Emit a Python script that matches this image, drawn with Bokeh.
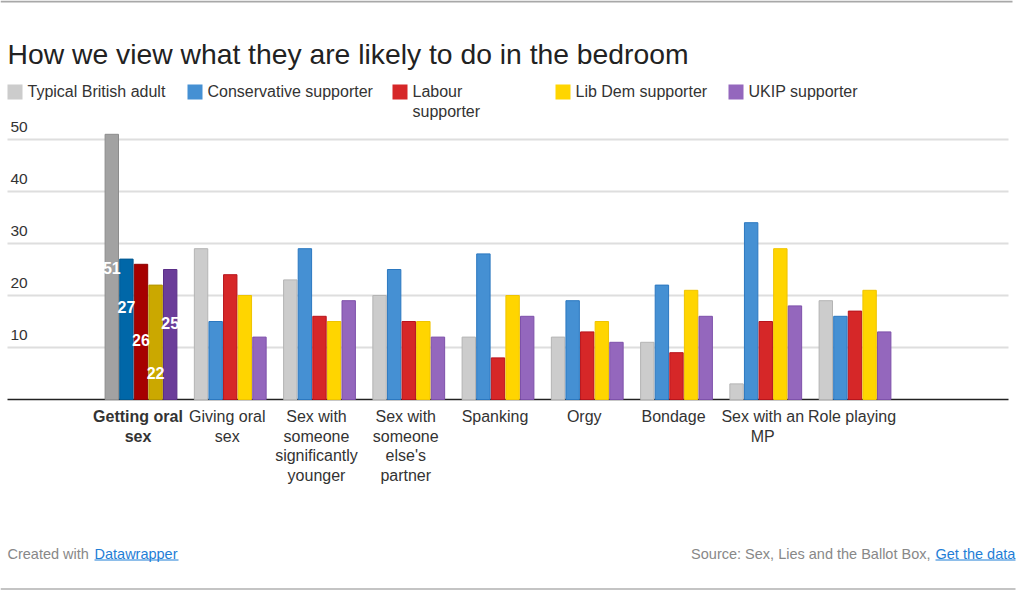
from bokeh.plotting import figure
from bokeh.models import Range1d, ColumnDataSource
from bokeh.core.properties import value
from bokeh.embed import file_html
from bokeh.resources import INLINE

# ---------------- data ----------------
title = "How we view what they are likely to do in the bedroom"
categories = ["Getting oral sex", "Giving oral sex", "Sex with someone significantly younger",
              "Sex with someone else's partner", "Spanking", "Orgy", "Bondage",
              "Sex with an MP", "Role playing"]
series_names = ["Typical British adult", "Conservative supporter", "Labour supporter",
                "Lib Dem supporter", "UKIP supporter"]
typical = [51, 29, 23, 20, 12, 12, 11, 3, 19]
conservative = [27, 15, 29, 25, 28, 19, 22, 34, 16]
labour = [26, 24, 16, 15, 8, 13, 9, 15, 17]
libdem = [22, 20, 15, 15, 20, 15, 21, 29, 21]
ukip = [25, 12, 19, 12, 16, 11, 16, 18, 13]
y_ticks = [10, 20, 30, 40, 50]
highlight_category = 0
footer_left = ["Created with", "Datawrapper"]
footer_right = ["Source: Sex, Lies and the Ballot Box,", "Get the data"]

series = [typical, conservative, labour, libdem, ukip]

# ---------------- style ----------------
FONT = value("Liberation Sans")
W, H = 1018, 590
PX_PER_X = 89.25      # px per category
X0_PX = 140.5         # px of first category centre
PX_PER_Y = 5.2        # px per unit
Y0_PX = 399           # px (from top) of the zero line
BAR_PITCH = 14.6 / PX_PER_X
BAR_W = 13.4 / PX_PER_X
LINE_H = 19.5

colors = ["#cccccc", "#4590d3", "#d62728", "#ffd500", "#9467bd"]
borders = ["#b4b4b4", "#2b78c0", "#b8141c", "#efc400", "#7e51aa"]
hi_colors = ["#a2a2a2", "#0067a8", "#a60000", "#cba800", "#6b3d99"]
hi_borders = ["#8c8c8c", "#00588f", "#8c0000", "#b39400", "#5b2f88"]
legend_wrap_width = [30, 30, 10, 30, 30]
legend_x = [7, 187, 392, 555, 728]
value_label_lift = [132, 93, 60, 27, 77]


def wrap(s, width=12):
    lines, cur = [], ""
    for w in s.split():
        if cur and len(cur) + 1 + len(w) > width:
            lines.append(cur)
            cur = w
        else:
            cur = (cur + " " + w).strip()
    lines.append(cur)
    return lines


p = figure(width=W, height=H, output_backend="svg", toolbar_location=None,
           x_axis_type=None, y_axis_type=None, min_border=0,
           x_range=Range1d(-X0_PX / PX_PER_X, (W - X0_PX) / PX_PER_X),
           y_range=Range1d(-(H - Y0_PX) / PX_PER_Y, Y0_PX / PX_PER_Y))
p.outline_line_color = None
p.grid.visible = False
p.background_fill_color = "white"
p.border_fill_color = "white"
p.extra_x_ranges = {"px": Range1d(0, W)}
p.extra_y_ranges = {"px": Range1d(H, 0)}

# frame lines (top / bottom of the embed)
p.segment(x0=[0, 0], x1=[1012, 1015], y0=[1, 588.5], y1=[1, 588.5],
          x_range_name="px", y_range_name="px", line_color=["#a8a8a8", "#c4c4c4"],
          line_width=[2, 2])

# gridlines and baseline
p.segment(x0=[7] * len(y_ticks), x1=[1008] * len(y_ticks), y0=y_ticks, y1=y_ticks,
          x_range_name="px", line_color="#dedede", line_width=2)
p.segment(x0=[7], x1=[1008], y0=[0], y1=[0], x_range_name="px",
          line_color="#222222", line_width=1.5)

# y tick labels
p.text(x=[10] * len(y_ticks), y=y_ticks, text=[str(t) for t in y_ticks], x_range_name="px",
       y_offset=-12.3, text_font=FONT, text_font_size="15.5px", text_color="#333333",
       text_baseline="middle", text_align="left")

# bars
idx = list(range(len(categories)))
for j, vals in enumerate(series):
    fills = [hi_colors[j] if i == highlight_category else colors[j] for i in idx]
    lines = [hi_borders[j] if i == highlight_category else borders[j] for i in idx]
    src = ColumnDataSource(dict(x=[i + (j - 2) * BAR_PITCH for i in idx], top=vals,
                                fill=fills, line=lines))
    p.vbar(x="x", top="top", bottom=0, width=BAR_W, source=src,
           fill_color="fill", line_color="line", line_width=1)

# value labels on highlighted category
hv = [s[highlight_category] for s in series]
p.text(x=[highlight_category + (j - 2) * BAR_PITCH for j in range(len(series))],
       y=[0] * len(series), text=[str(v) for v in hv],
       y_offset=[-l for l in value_label_lift], text_font=FONT, text_font_size="16px",
       text_font_style="bold", text_color="white", text_align="center",
       text_baseline="middle")

# category labels (one row per wrapped line)
cx, cy, ct, cs = [], [], [], []
for i, c in enumerate(categories):
    for k, ln in enumerate(wrap(c)):
        cx.append(i)
        cy.append(416.2 + k * LINE_H)
        ct.append(ln)
        cs.append("bold" if i == highlight_category else "normal")
cat_src = ColumnDataSource(dict(x=cx, y=cy, text=ct, style=cs))
p.text(x="x", y="y", text="text", source=cat_src, y_range_name="px", x_offset=-3,
       text_font=FONT, text_font_size="16px", text_font_style="style", text_color="#333333",
       text_align="center", text_baseline="middle")

# title
p.text(x=[7], y=[53], text=[title], x_range_name="px", y_range_name="px",
       text_font=FONT, text_font_size="28.3px", text_color="#222222",
       text_baseline="middle")

# legend
p.quad(left=legend_x, right=[x + 15 for x in legend_x], top=[84] * 5, bottom=[99] * 5,
       x_range_name="px", y_range_name="px", fill_color=colors, line_color=None)
lx, ly, lt = [], [], []
for j, n in enumerate(series_names):
    for k, ln in enumerate(wrap(n, legend_wrap_width[j])):
        lx.append(legend_x[j] + 20)
        ly.append(91 + k * LINE_H)
        lt.append(ln)
p.text(x=lx, y=ly, text=lt, x_range_name="px", y_range_name="px", text_font=FONT,
       text_font_size="16px", text_color="#333333", text_baseline="middle")

# footer
FS = "14.5px"
p.text(x=[7], y=[553], text=[footer_left[0]], x_range_name="px", y_range_name="px",
       text_font=FONT, text_font_size=FS, text_color="#888888", text_baseline="middle")
p.text(x=[94], y=[553], text=[footer_left[1]], x_range_name="px", y_range_name="px",
       text_font=FONT, text_font_size=FS, text_color="#1f7ed6", text_baseline="middle")
p.segment(x0=[94, 935], x1=[178, 1015], y0=[559.5, 559.5], y1=[559.5, 559.5],
          x_range_name="px", y_range_name="px", line_color="#1f7ed6", line_width=1)
p.text(x=[930], y=[553], text=[footer_right[0]], x_range_name="px", y_range_name="px",
       text_font=FONT, text_font_size=FS, text_color="#888888", text_align="right",
       text_baseline="middle")
p.text(x=[935], y=[553], text=[footer_right[1]], x_range_name="px", y_range_name="px",
       text_font=FONT, text_font_size=FS, text_color="#1f7ed6", text_baseline="middle")

open("out.html", "w").write(file_html(p, INLINE))
